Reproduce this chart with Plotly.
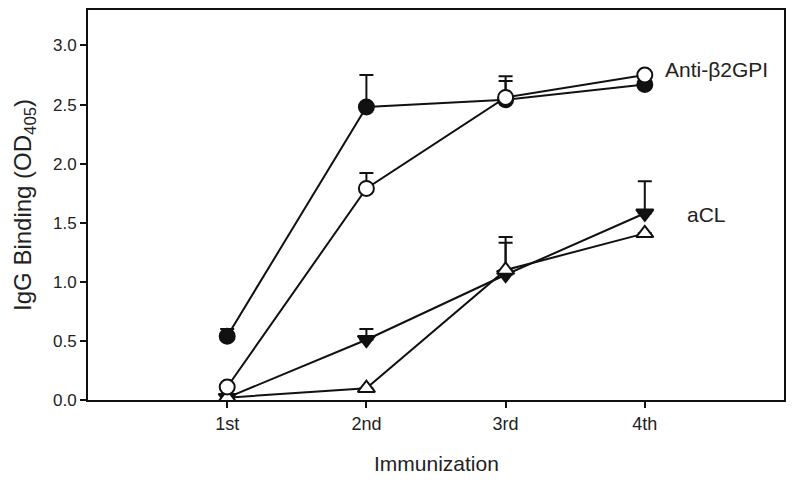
import plotly.graph_objects as go

categories = ["1st", "2nd", "3rd", "4th"]
x_pos = [1, 2, 3, 4]

antib2_filled = [0.54, 2.48, 2.54, 2.67]
antib2_filled_err = [0.06, 0.27, 0.16, 0.0]
antib2_open = [0.11, 1.79, 2.56, 2.75]
antib2_open_err = [0.0, 0.13, 0.18, 0.0]
acl_filled = [0.02, 0.51, 1.06, 1.58]
acl_filled_err = [0.0, 0.09, 0.32, 0.27]
acl_open = [0.02, 0.10, 1.10, 1.41]
acl_open_err = [0.0, 0.0, 0.23, 0.0]

fig = go.Figure()

def add(y, err, symbol, fill):
    fig.add_trace(go.Scatter(
        x=x_pos, y=y, mode="lines+markers",
        line=dict(color="#111", width=2),
        marker=dict(symbol=symbol, size=15, color=fill,
                    line=dict(color="#111", width=2)),
        error_y=dict(type="data", array=err, arrayminus=[0]*len(err),
                     symmetric=False, color="#111", thickness=2, width=7),
        showlegend=False,
    ))

add(acl_filled, acl_filled_err, "triangle-down", "#111")
add(acl_open, acl_open_err, "triangle-up", "white")
add(antib2_filled, antib2_filled_err, "circle", "#111")
add(antib2_open, antib2_open_err, "circle", "white")

FONT = "Liberation Sans, Arial, sans-serif"

fig.add_annotation(x=4.13, y=2.80, text="Anti-β2GPI", showarrow=False,
                   xanchor="left", yanchor="middle",
                   font=dict(family=FONT, size=21, color="#222"))
fig.add_annotation(x=4.29, y=1.57, text="aCL", showarrow=False,
                   xanchor="left", yanchor="middle",
                   font=dict(family=FONT, size=21, color="#222"))
fig.add_annotation(xref="paper", yref="paper", x=0.5, y=-0.162,
                   text="Immunization", showarrow=False,
                   xanchor="center", yanchor="middle",
                   font=dict(family=FONT, size=21, color="#222"))
fig.add_annotation(xref="paper", yref="paper", x=-0.092, y=0.5,
                   text="IgG Binding (OD<sub>405</sub>)", showarrow=False,
                   textangle=-90, xanchor="center", yanchor="middle",
                   font=dict(family=FONT, size=24, color="#222"))

fig.update_layout(
    width=787, height=472,
    margin=dict(l=80, r=11, t=2, b=80, autoexpand=False),
    paper_bgcolor="white", plot_bgcolor="white",
    font=dict(family=FONT, color="#222"),
    xaxis=dict(range=[0, 5], tickvals=x_pos, ticktext=categories,
               automargin=False,
               showgrid=False, zeroline=False, showline=True, mirror=True,
               linecolor="#111", linewidth=2, ticks="outside", ticklen=6,
               tickwidth=1.5, tickcolor="#111", tickfont=dict(family=FONT, size=18, color="#222")),
    yaxis=dict(range=[0, 3.3], tickvals=[0, 0.5, 1.0, 1.5, 2.0, 2.5, 3.0],
               ticktext=["0.0", "0.5", "1.0", "1.5", "2.0", "2.5", "3.0"],
               automargin=False,
               showgrid=False, zeroline=False, showline=True, mirror=True,
               linecolor="#111", linewidth=2, ticks="outside", ticklen=6,
               tickwidth=1.5, tickcolor="#111", tickfont=dict(family=FONT, size=17, color="#222")),
)

fig.write_html("out.html")
